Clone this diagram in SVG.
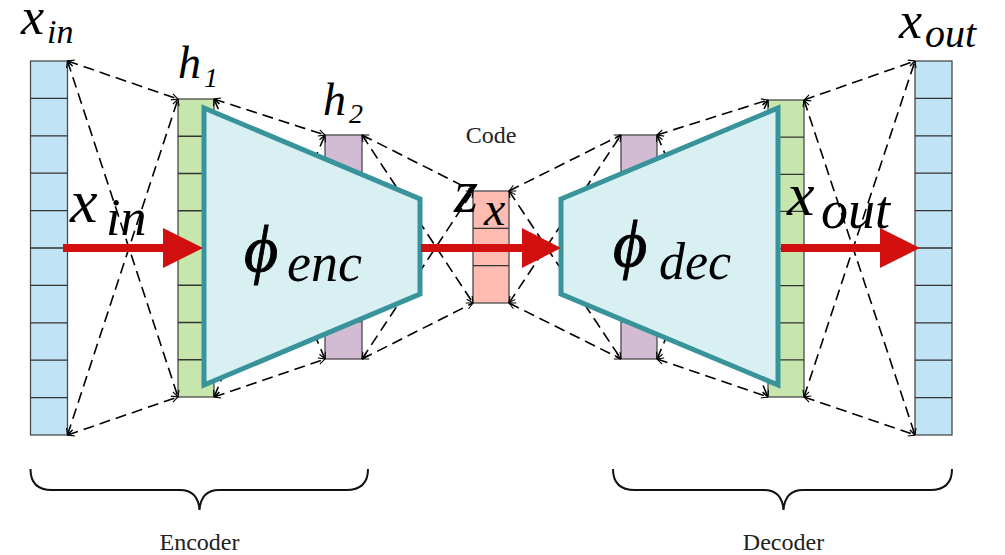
<svg xmlns="http://www.w3.org/2000/svg" width="1005" height="555" viewBox="0 0 1005 555">
<style>
.cell{stroke:#4a4a4a;stroke-width:1.3}
.blue{fill:#c1e3f6}
.green{fill:#c6e6ad}
.purple{fill:#d3bbd3}
.pink{fill:#fdbbb1}
.div{stroke:#333;stroke-width:1.3;fill:none}
.dash{stroke:#000;stroke-width:1.6;stroke-dasharray:11,6;fill:none;marker-start:url(#ah);marker-end:url(#ah)}
.trap{fill:#d9f0f3;stroke:#38939b;stroke-width:5;stroke-linejoin:miter}
.red{fill:#d10f0f}
.math{font-family:"Liberation Serif","DejaVu Serif",serif;font-style:italic;fill:#000}
.phi{stroke:#000;stroke-width:0.9}
.lbl{font-family:"Liberation Serif","DejaVu Serif",serif;fill:#222}
.brace{fill:none;stroke:#111;stroke-width:2}
</style>
<defs>
<marker id="ah" viewBox="0 0 8 8" refX="7.5" refY="4" markerWidth="8" markerHeight="8" markerUnits="userSpaceOnUse" orient="auto-start-reverse">
<path d="M1,0.8 L7.5,4 L1,7.2" fill="none" stroke="#000" stroke-width="1.1"/>
</marker>
</defs>
<rect width="1005" height="555" fill="#fff"/>

<g id="layer-xin">
<rect class="cell blue" x="30.5" y="61" width="37" height="374"/>
<path class="div" d="M30.5,98.4H67.5M30.5,135.8H67.5M30.5,173.2H67.5M30.5,210.6H67.5M30.5,248H67.5M30.5,285.4H67.5M30.5,322.8H67.5M30.5,360.2H67.5M30.5,397.6H67.5"/>
</g>
<g id="layer-h1">
<rect class="cell green" x="178" y="99" width="36" height="298"/>
<path class="div" d="M178,136.25H214M178,173.5H214M178,210.75H214M178,248H214M178,285.25H214M178,322.5H214M178,359.75H214"/>
</g>
<g id="layer-h2">
<rect class="cell purple" x="325" y="135" width="37" height="224"/>
<path class="div" d="M325,172.3H362M325,209.7H362M325,247H362M325,284.3H362M325,321.7H362"/>
</g>
<g id="layer-code">
<rect class="cell pink" x="473" y="191" width="36" height="112"/>
<path class="div" d="M473,228.3H509M473,265.7H509"/>
</g>
<g id="layer-h2-dec">
<rect class="cell purple" x="621" y="135" width="36" height="224"/>
<path class="div" d="M621,172.3H657M621,209.7H657M621,247H657M621,284.3H657M621,321.7H657"/>
</g>
<g id="layer-h1-dec">
<rect class="cell green" x="768" y="100" width="36" height="297"/>
<path class="div" d="M768,137.1H804M768,174.3H804M768,211.4H804M768,248.5H804M768,285.6H804M768,322.8H804M768,359.9H804"/>
</g>
<g id="layer-xout">
<rect class="cell blue" x="915" y="61" width="37" height="374"/>
<path class="div" d="M915,98.4H952M915,135.8H952M915,173.2H952M915,210.6H952M915,248H952M915,285.4H952M915,322.8H952M915,360.2H952M915,397.6H952"/>
</g>

<g id="connectors">
<line class="dash" x1="67.5" y1="61" x2="178" y2="99"/>
<line class="dash" x1="67.5" y1="61" x2="178" y2="397"/>
<line class="dash" x1="67.5" y1="435" x2="178" y2="99"/>
<line class="dash" x1="67.5" y1="435" x2="178" y2="397"/>
<line class="dash" x1="214" y1="99" x2="325" y2="135"/>
<line class="dash" x1="214" y1="99" x2="325" y2="359"/>
<line class="dash" x1="214" y1="397" x2="325" y2="135"/>
<line class="dash" x1="214" y1="397" x2="325" y2="359"/>
<line class="dash" x1="362" y1="135" x2="473" y2="191"/>
<line class="dash" x1="362" y1="135" x2="473" y2="303"/>
<line class="dash" x1="362" y1="359" x2="473" y2="191"/>
<line class="dash" x1="362" y1="359" x2="473" y2="303"/>
<line class="dash" x1="509" y1="191" x2="621" y2="135"/>
<line class="dash" x1="509" y1="191" x2="621" y2="359"/>
<line class="dash" x1="509" y1="303" x2="621" y2="135"/>
<line class="dash" x1="509" y1="303" x2="621" y2="359"/>
<line class="dash" x1="657" y1="135" x2="768" y2="100"/>
<line class="dash" x1="657" y1="135" x2="768" y2="397"/>
<line class="dash" x1="657" y1="359" x2="768" y2="100"/>
<line class="dash" x1="657" y1="359" x2="768" y2="397"/>
<line class="dash" x1="804" y1="100" x2="915" y2="61"/>
<line class="dash" x1="804" y1="100" x2="915" y2="435"/>
<line class="dash" x1="804" y1="397" x2="915" y2="61"/>
<line class="dash" x1="804" y1="397" x2="915" y2="435"/>
</g>

<g id="encoder">
<polygon class="trap" points="204,108 420,199 420,294 204,385"/>
<text class="math"><tspan class="phi" x="244" y="271" font-size="66">ϕ</tspan><tspan x="287" y="281" font-size="54">enc</tspan></text>
</g>
<g id="decoder">
<polygon class="trap" points="561,199 778,108 778,385 561,294"/>
<text class="math"><tspan class="phi" x="613" y="266" font-size="66">ϕ</tspan><tspan x="659" y="279" font-size="52">dec</tspan></text>
</g>

<g id="arrows">
<path class="red" d="M63,244 H163 V228 L203,248 L163,268 V252 H63 Z"/>
<path class="red" d="M421,244 H522 V228 L561,248 L522,268 V252 H421 Z"/>
<path class="red" d="M781,244 H880 V228 L920,248 L880,268 V252 H781 Z"/>
</g>

<g id="labels">
<text class="math"><tspan x="21" y="34" font-size="52">x</tspan><tspan x="47" y="43" font-size="34">in</tspan></text>
<text class="math"><tspan x="178" y="78" font-size="46">h</tspan><tspan x="204" y="87" font-size="28">1</tspan></text>
<text class="math"><tspan x="323" y="115" font-size="46">h</tspan><tspan x="349" y="123" font-size="28">2</tspan></text>
<text class="lbl" x="491" y="143" font-size="24" text-anchor="middle">Code</text>
<text class="math"><tspan x="454" y="212" font-size="62">z</tspan><tspan x="484" y="225" font-size="48">x</tspan></text>
<text class="math"><tspan x="70" y="222" font-size="62">x</tspan><tspan x="106" y="235" font-size="52">in</tspan></text>
<text class="math"><tspan x="787" y="215" font-size="62">x</tspan><tspan x="821" y="228" font-size="54">out</tspan></text>
<text class="math"><tspan x="899" y="38" font-size="52">x</tspan><tspan x="925" y="47" font-size="40">out</tspan></text>
</g>

<g id="brace-encoder">
<path class="brace" d="M30.5,469 Q30.5,490 52,490 L180,490 Q198,490 199.5,510 Q201,490 219,490 L346,490 Q368,490 368,469"/>
<text class="lbl" x="199.5" y="550" font-size="24" text-anchor="middle">Encoder</text>
</g>
<g id="brace-decoder">
<path class="brace" d="M613,469 Q613,490 635,490 L764,490 Q782,490 783.5,510 Q785,490 803,490 L930,490 Q952,490 952,469"/>
<text class="lbl" x="783.5" y="550" font-size="24" text-anchor="middle">Decoder</text>
</g>
</svg>
